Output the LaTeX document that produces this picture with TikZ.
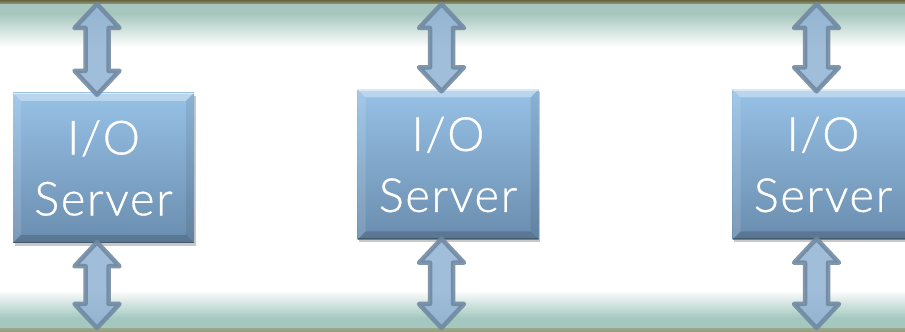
\documentclass[tikz,border=0pt]{standalone}
\usepackage{fontspec}
\setmainfont{Lato}[UprightFont=* Light, LetterSpace=3.5, FakeBold=0.7]
\usetikzlibrary{calc,shadows}

\definecolor{olivetop}{HTML}{67633F}
\definecolor{olivebot}{HTML}{959C79}
\definecolor{bandgreen}{HTML}{A7C7BE}
\definecolor{bandteal}{HTML}{A4C8C0}
\definecolor{boxtop}{HTML}{97C1E6}
\definecolor{boxbot}{HTML}{6A8DAE}
\definecolor{arrfill}{HTML}{93B4D4}
\definecolor{arrline}{HTML}{6F88A1}

% double-headed block arrow between two vertically aligned points (first one on top)
\newcommand\blockarrow[2]{%
  \draw[fatarrow] let \p1=(#1), \p2=(#2) in
    (\x1,\y1) -- (\x1+22.5pt,\y1-24pt) -- (\x1+11.5pt,\y1-24pt)
    -- (\x1+11.5pt,\y2+24pt) -- (\x1+22.5pt,\y2+24pt) -- (\x1,\y2)
    -- (\x1-22.5pt,\y2+24pt) -- (\x1-11.5pt,\y2+24pt)
    -- (\x1-11.5pt,\y1-24pt) -- (\x1-22.5pt,\y1-24pt) -- cycle;}

\begin{document}
\begin{tikzpicture}[x=1pt,y=1pt,
  fatarrow/.style={draw=arrline, fill=arrfill, line width=4.5pt,
    line join=round, opacity=0.88},
  server/.style={minimum width=181pt, minimum height=150pt, inner sep=0pt,
    top color=boxtop, bottom color=boxbot, text=white, align=center,
    font=\fontsize{47}{61}\selectfont,
    drop shadow={shadow xshift=1.5pt, shadow yshift=-3pt, opacity=0.3, fill=black!70},
    path picture={
      \coordinate (nw) at (path picture bounding box.north west);
      \coordinate (ne) at (path picture bounding box.north east);
      \coordinate (sw) at (path picture bounding box.south west);
      \coordinate (se) at (path picture bounding box.south east);
      \fill[white, opacity=0.35] (nw) -- (ne) -- ($(ne)+(-8,-8)$) -- ($(nw)+(8,-8)$) -- cycle;
      \fill[white, opacity=0.12] (nw) -- ($(nw)+(8,-8)$) -- ($(sw)+(8,8)$) -- (sw) -- cycle;
      \fill[black, opacity=0.08] (ne) -- ($(ne)+(-8,-8)$) -- ($(se)+(-8,8)$) -- (se) -- cycle;
      \fill[black, opacity=0.16] (sw) -- ($(sw)+(8,8)$) -- ($(se)+(-8,8)$) -- (se) -- cycle;
      \draw[white, opacity=0.5, line width=1.2pt] ($(nw)+(0,-0.6)$) -- ($(ne)+(0,-0.6)$);
      \draw[black, opacity=0.25, line width=1.2pt] ($(sw)+(0,0.6)$) -- ($(se)+(0,0.6)$);
    }},
]
\useasboundingbox (0,0) rectangle (905,332);
\clip (0,0) rectangle (905,332);
\fill[white] (0,0) rectangle (905,332);

% upper bus band
\fill[top color=olivetop, bottom color=olivebot] (0,332) rectangle (905,328);
\fill[bandgreen] (0,328) rectangle (905,318);
\fill[top color=bandgreen, bottom color=white] (0,318.2) rectangle (905,285);

% lower bus band
\fill[top color=white, bottom color=bandteal] (0,42) rectangle (905,14);
\fill[bandteal] (0,14.2) rectangle (905,3);
\fill[top color=olivebot!80!bandteal, bottom color=olivebot] (0,3.2) rectangle (905,0);

% servers
\node[server] (b1) at (103.5,164) {I/O\\Server};
\node[server] (b2) at (448,167.5) {I/O\\Server};
\node[server] (b3) at (823,167.5) {I/O\\Server};

% bus ends of the links
\coordinate (t1) at (97,328);
\coordinate (t2) at (441.5,328);
\coordinate (t3) at (816.5,328);
\coordinate (u1) at (97,4);
\coordinate (u2) at (441.5,4);
\coordinate (u3) at (816.5,4);

% links to the buses
\blockarrow{t1}{$(b1.north)+(-6.5,-2)$}
\blockarrow{t2}{$(b2.north)+(-6.5,-2)$}
\blockarrow{t3}{$(b3.north)+(-6.5,-2)$}
\blockarrow{$(b1.south)+(-6.5,1)$}{u1}
\blockarrow{$(b2.south)+(-6.5,1)$}{u2}
\blockarrow{$(b3.south)+(-6.5,1)$}{u3}
\end{tikzpicture}
\end{document}
